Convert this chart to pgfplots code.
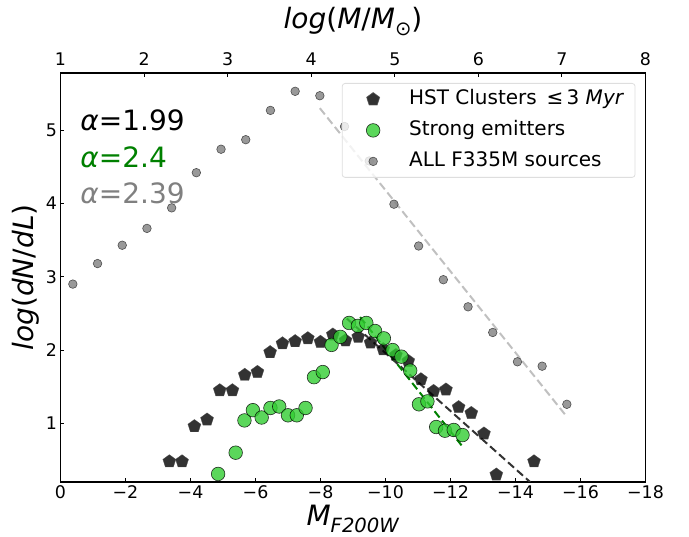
\documentclass[border=0pt]{standalone}
\usepackage{fontspec}
\setmainfont{DejaVu Sans}
\usepackage{pgfplots}
\usepackage{pgfplotstable}
\pgfplotsset{compat=1.18}
\usetikzlibrary{plotmarks}

\definecolor{limegreen}{HTML}{32CD32}
\definecolor{fitgreen}{HTML}{008000}
\definecolor{fitgrey}{HTML}{C0C0C0}

\pgfplotsset{/pgf/number format/assume math mode=true}

% HST clusters younger than 3 Myr
\pgfplotstableread{
M y
-3.35 0.48
-3.74 0.48
-4.12 0.96
-4.51 1.05
-4.90 1.45
-5.29 1.45
-5.67 1.66
-6.06 1.70
-6.45 1.97
-6.83 2.09
-7.22 2.12
-7.61 2.16
-8.00 2.11
-8.38 2.21
-8.77 2.13
-9.16 2.18
-9.54 2.10
-9.93 2.01
-10.32 1.93
-10.70 1.85
-11.09 1.60
-11.48 1.44
-11.86 1.46
-12.25 1.22
-12.64 1.14
-13.03 0.86
-13.41 0.30
-14.57 0.48
}\hstclusters

% strong emitters
\pgfplotstableread{
M y
-4.85 0.31
-5.39 0.60
-5.66 1.04
-5.92 1.18
-6.19 1.08
-6.46 1.21
-6.73 1.23
-7.00 1.11
-7.27 1.11
-7.54 1.21
-7.80 1.63
-8.07 1.70
-8.34 2.07
-8.61 2.18
-8.88 2.37
-9.15 2.33
-9.41 2.37
-9.68 2.26
-9.95 2.16
-10.22 2.00
-10.49 1.91
-10.76 1.72
-11.03 1.26
-11.29 1.30
-11.56 0.95
-11.83 0.90
-12.10 0.91
-12.37 0.84
}\strongemitters

% all F335M sources
\pgfplotstableread{
M y
-0.38 2.90
-1.14 3.18
-1.90 3.43
-2.66 3.66
-3.42 3.94
-4.18 4.42
-4.94 4.74
-5.70 4.87
-6.46 5.27
-7.22 5.53
-7.98 5.47
-8.74 5.05
-9.50 4.58
-10.26 3.99
-11.02 3.42
-11.78 2.96
-12.54 2.59
-13.30 2.24
-14.06 1.84
-14.82 1.78
-15.58 1.26
}\allsources

\newcommand{\lblfont}{\fontsize{28bp}{32bp}\selectfont}
\newcommand{\subfont}{\fontsize{19.6bp}{22bp}\selectfont}

\begin{document}
\begin{tikzpicture}
\begin{axis}[
  at={(0,0)}, anchor=south west,
  scale only axis, width=585bp, height=409bp,
  x dir=reverse,
  xmin=-18, xmax=0, ymin=0.2, ymax=5.78,
  xtick={0,-2,-4,-6,-8,-10,-12,-14,-16,-18},
  xticklabels={0,−2,−4,−6,−8,−10,−12,−14,−16,−18},
  ytick={1,2,3,4,5},
  xtick pos=bottom, ytick pos=left,
  tick align=inside,
  major tick length=4bp,
  every tick/.style={black, line width=1.1bp},
  axis line style={line width=1.1bp},
  tick label style={font=\fontsize{17.4bp}{20bp}\selectfont},
  label style={font=\lblfont},
  xlabel={\textit{M}\raisebox{-0.25em}{\subfont\textit{F200W}}},
  ylabel={\textit{log}(\textit{dN}/\textit{dL})},
  legend cell align=left,
  legend image code/.code={%
    \path[draw=none, fill=none] (0bp,-9bp) rectangle (40bp,9bp);
    \draw[#1] plot coordinates {(20bp,0bp)};},
  legend style={
    at={(1,1)}, anchor=north east, xshift=-10bp, yshift=-10bp,
    draw=black!13, line width=0.8bp, rounded corners=3bp,
    fill=white, fill opacity=0.8, text opacity=1,
    font=\fontsize{20bp}{24bp}\selectfont,
    inner xsep=11bp, inner ysep=6bp,
    row sep=11bp, column sep=16bp,
    nodes={inner sep=0bp, text height=15bp, text depth=5bp},
  },
]

\addplot[only marks, mark=pentagon*, mark size=6.8bp,
  mark options={fill=black, draw=black!70, opacity=0.8}]
  table[x=M, y=y] {\hstclusters};
\addlegendentry{HST Clusters \,≤\,3 \textit{Myr}}

\addplot[only marks, mark=*, mark size=6.8bp,
  mark options={fill=limegreen, draw=black, line width=0.6bp, opacity=0.8}]
  table[x=M, y=y] {\strongemitters};
\addlegendentry{Strong emitters}

\addplot[only marks, mark=*, mark size=4.3bp,
  mark options={fill=gray, draw=black!80, line width=0.6bp, opacity=0.8}]
  table[x=M, y=y] {\allsources};
\addlegendentry{ALL F335M sources}

% power-law fits
\addplot[forget plot, fitgrey, line width=2bp, dash pattern=on 8bp off 4bp]
  coordinates {(-7.98,5.30) (-15.58,1.09)};
\addplot[forget plot, black!80, line width=2bp, dash pattern=on 8bp off 4bp]
  coordinates {(-8.81,2.43) (-14.45,0.20)};
\addplot[forget plot, fitgreen, line width=2bp, dash pattern=on 8bp off 4bp]
  coordinates {(-9.22,2.45) (-12.34,0.70)};

\node[anchor=base west, font=\lblfont, text=black]
  at (axis description cs:0.028,0.859) {\textit{α}=1.99};
\node[anchor=base west, font=\lblfont, text=fitgreen]
  at (axis description cs:0.028,0.770) {\textit{α}=2.4};
\node[anchor=base west, font=\lblfont, text=gray]
  at (axis description cs:0.028,0.680) {\textit{α}=2.39};
\end{axis}

% mass scale on the top axis
\begin{axis}[
  at={(0,0)}, anchor=south west,
  scale only axis, width=585bp, height=409bp,
  xmin=1, xmax=8, ymin=0, ymax=1,
  axis x line*=top, axis y line=none,
  x axis line style={-, line width=1.1bp},
  xtick={1,2,3,4,5,6,7,8},
  tick align=inside,
  major tick length=4bp,
  every tick/.style={black, line width=1.1bp},
  tick label style={font=\fontsize{17.4bp}{20bp}\selectfont},
  xticklabel style={yshift=4bp},
  label style={font=\lblfont},
  xlabel style={yshift=10bp},
  xlabel={\textit{log}(\textit{M}/\textit{M}\raisebox{-0.25em}{\subfont ⊙})},
]
\end{axis}

\pgfresetboundingbox
\useasboundingbox (-60.5bp,-55bp) rectangle (628.5bp,482bp);
\end{tikzpicture}
\end{document}
